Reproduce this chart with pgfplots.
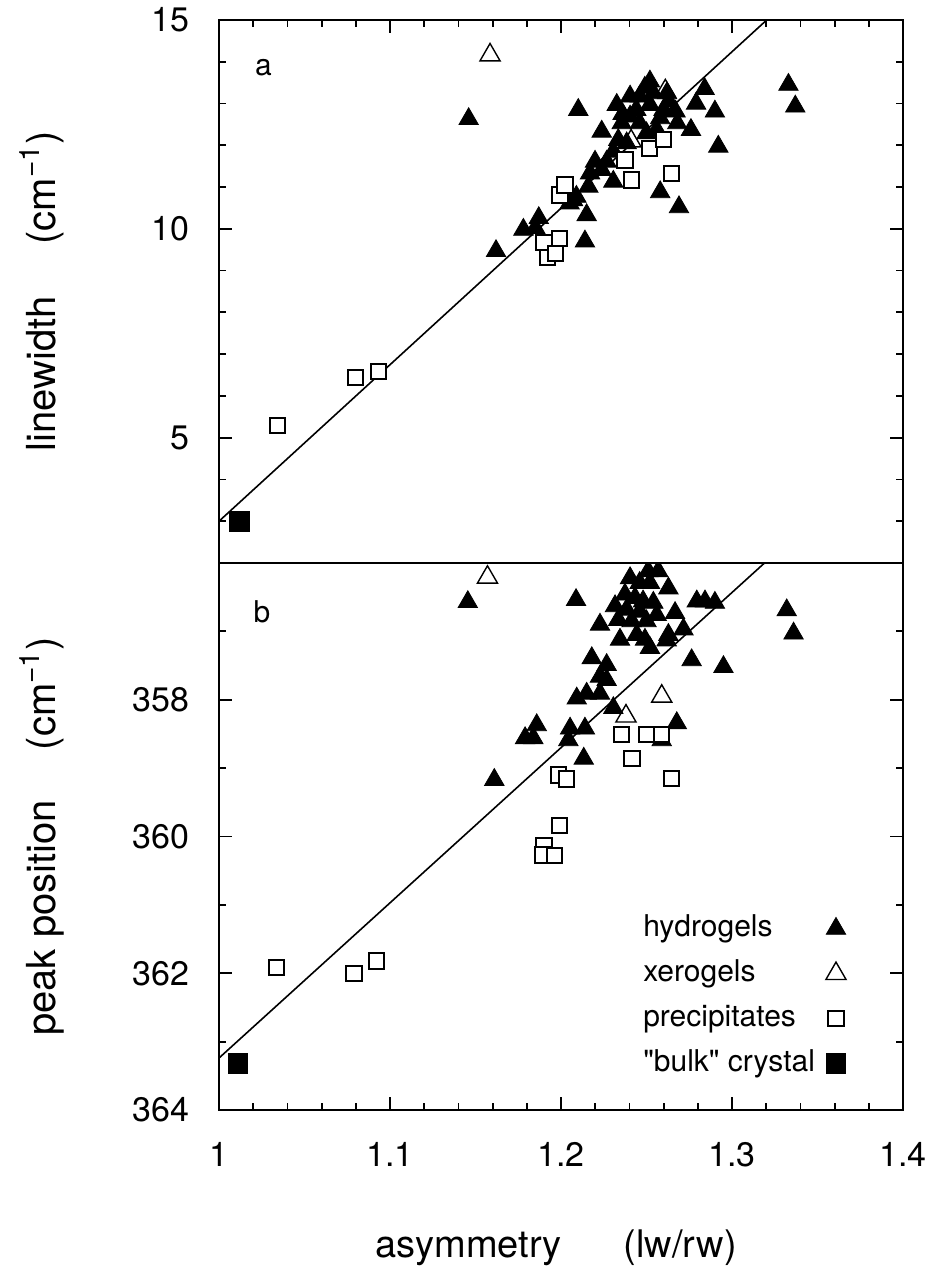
\documentclass[border=0pt]{standalone}
\usepackage{fontspec}
\setmainfont{TeX Gyre Heros}[Ligatures=TeXOff]
\usepackage{pgfplots}
\pgfplotsset{compat=1.18}

\pgfplotsset{
 panel/.style={
  scale only axis, width=342pt,
  xmin=1, xmax=1.4,
  xtick={1,1.1,1.2,1.3,1.4}, minor x tick num=4,
  tick align=inside,
  major tick length=6.5pt, minor tick length=3.5pt,
  every tick/.style={black, line width=0.9pt},
  axis line style={line width=1pt},
  /pgf/number format/assume math mode=true,
  ticklabel style={font=\fontsize{17}{20}\selectfont, inner sep=0pt},
  yticklabel style={xshift=-14.5pt},
  xticklabel style={yshift=-16pt},
  clip marker paths=true,
  label style={font=\fontsize{20}{24}\selectfont, inner sep=0pt},
 },
 hyd/.style={only marks, mark=triangle*, mark size=5.6pt, mark options={fill=black, draw=black, line width=0.4pt}},
 xer/.style={only marks, mark=triangle*, mark size=5.8pt, mark options={draw=black, fill=white, line width=0.7pt}},
 pre/.style={only marks, mark=square*, mark size=3.8pt, mark options={draw=black, fill=white, line width=1pt}},
 blk/.style={only marks, mark=square*, mark size=4.9pt, mark options={fill=black, draw=black}},
}

\begin{document}
\begin{tikzpicture}
\useasboundingbox (-109.5pt,-81pt) rectangle (353.5pt,555pt);

% ---------------- top panel ----------------
\begin{axis}[panel,
  at={(0pt,273.5pt)}, anchor=south west,
  height=271.5pt,
  ymin=2, ymax=15,
  ytick={5,10,15}, minor ytick={3,4,6,7,8,9,11,12,13,14},
  xtick pos=right, xticklabel=\empty,
  ylabel={linewidth\hspace{26pt}(cm\textsuperscript{−1})},
  ylabel style={at={(axis cs:0.9041,8.5)}, anchor=base},
]
\addplot[black, line width=0.8pt, forget plot] coordinates {(1,3.0) (1.3203,15)};
\addplot[xer, forget plot] coordinates {(1.1585,14.16)(1.261,13.3)(1.241,12.1)};
\addplot[hyd, forget plot] coordinates {
(1.146,12.63)(1.162,9.47)(1.178,9.98)(1.185,10.02)(1.187,10.26)(1.205,10.61)
(1.209,10.77)(1.207,10.69)(1.214,9.70)(1.215,10.33)(1.216,11.01)(1.217,11.33)
(1.2199,11.61)(1.2238,11.41)(1.2267,11.61)(1.2306,11.13)(1.2306,11.85)(1.2335,12.13)
(1.2384,12.05)(1.2355,12.53)(1.2238,12.33)(1.2101,12.85)(1.2326,12.97)(1.2404,13.17)
(1.246,13.17)(1.254,13.25)(1.262,13.25)(1.252,13.53)(1.252,12.97)(1.260,12.85)
(1.267,12.81)(1.268,12.53)(1.276,12.37)(1.279,13.0)(1.284,13.35)(1.290,12.81)
(1.2404,12.69)(1.246,12.53)(1.250,12.29)(1.256,12.37)(1.292,11.97)(1.258,10.88)
(1.269,10.52)(1.333,13.45)(1.337,12.93)(1.244,12.85)(1.258,12.65)(1.249,13.38)
(1.263,13.05)(1.236,12.75)};
\addplot[pre, forget plot] coordinates {
(1.034,5.29)(1.080,6.44)(1.0935,6.59)(1.190,9.67)(1.199,9.76)(1.192,9.31)
(1.197,9.40)(1.1994,10.81)(1.2023,11.05)(1.2374,11.65)(1.2413,11.17)(1.2517,11.93)
(1.2598,12.13)(1.2647,11.33)};
\addplot[blk, forget plot] coordinates {(1.012,3.0)};
\node[font=\fontsize{15}{18}\selectfont] at (axis cs:1.026,13.85) {a};
\end{axis}

% ---------------- bottom panel ----------------
\begin{axis}[panel,
  at={(0pt,0pt)}, anchor=south west,
  height=273.5pt,
  y dir=reverse,
  ymin=356, ymax=364,
  ytick={358,360,362,364}, minor ytick={357,359,361,363},
  xtick pos=left,
  xlabel={asymmetry\hspace{31pt}(lw/rw)},
  xlabel style={at={(axis cs:1.1971,366.15)}, anchor=base, font=\fontsize{19}{23}\selectfont},
  ylabel={peak position\hspace{25pt}(cm\textsuperscript{−1})},
  ylabel style={at={(axis cs:0.9041,360)}, anchor=base},
  legend cell align=left, legend plot pos=right,
  legend style={at={(axis cs:1.2479,361.13)}, anchor=north west, draw=none, fill=none,
    inner sep=0pt, column sep=5.5pt, row sep=8pt,
    nodes={inner sep=0pt, text height=11pt, text depth=3.5pt, font=\fontsize{15}{18}\selectfont}},
]
\addplot[black, line width=0.8pt, forget plot] coordinates {(1,363.24) (1.319,356)};
\addplot[xer, forget plot] coordinates {(1.157,356.21)(1.2589,357.95)(1.238,358.24)};
\addplot[hyd, forget plot] coordinates {
(1.1455,356.57)(1.161,359.17)(1.179,358.56)(1.1838,358.56)(1.1858,358.37)(1.2043,358.59)
(1.2053,358.42)(1.214,358.42)(1.2133,358.86)(1.2088,356.54)(1.2092,357.98)(1.215,357.91)
(1.2228,357.91)(1.2306,358.12)(1.218,357.39)(1.2267,357.49)(1.2228,357.66)(1.2267,357.71)
(1.2228,356.90)(1.2404,356.22)(1.251,356.12)(1.2569,356.12)(1.246,356.29)(1.252,356.29)
(1.2628,356.37)(1.2374,356.46)(1.2433,356.51)(1.248,356.56)(1.254,356.58)(1.2316,356.63)
(1.2384,356.68)(1.246,356.71)(1.256,356.76)(1.2335,356.83)(1.2413,356.85)(1.250,356.85)
(1.2667,356.73)(1.2716,356.97)(1.2628,357.05)(1.2345,357.12)(1.2443,357.05)(1.2491,357.12)
(1.252,357.24)(1.2618,357.13)(1.2794,356.56)(1.2842,356.56)(1.290,356.58)(1.2764,357.42)
(1.295,357.52)(1.2677,358.34)(1.2589,358.59)(1.332,356.69)(1.336,357.03)};
\addplot[pre, forget plot] coordinates {
(1.0335,361.92)(1.079,362.0)(1.092,361.82)(1.190,360.14)(1.189,360.27)(1.196,360.28)
(1.199,359.84)(1.1986,359.10)(1.2033,359.16)(1.2355,358.51)(1.250,358.51)(1.2589,358.51)
(1.2415,358.86)(1.2645,359.15)};
\addplot[blk, forget plot] coordinates {(1.011,363.32)};
\addlegendimage{hyd}\addlegendentry{hydrogels}
\addlegendimage{xer}\addlegendentry{xerogels}
\addlegendimage{pre}\addlegendentry{precipitates}
\addlegendimage{blk}\addlegendentry{"bulk" crystal}
\node[font=\fontsize{15}{18}\selectfont] at (axis cs:1.0251,356.72) {b};
\end{axis}
\end{tikzpicture}
\end{document}
